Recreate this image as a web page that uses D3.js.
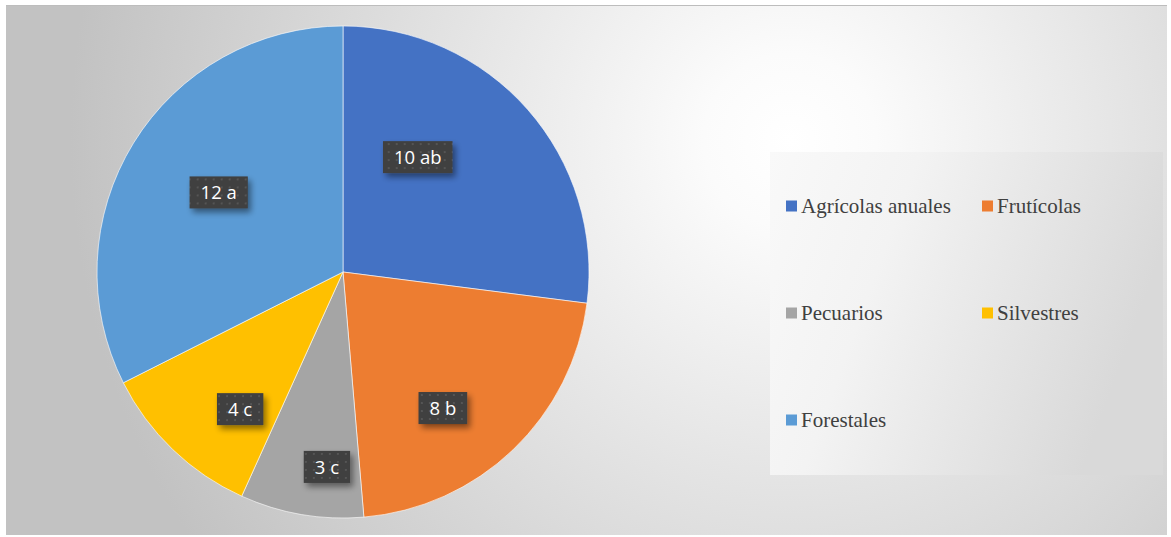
<!DOCTYPE html>
<html>
<head>
<meta charset="utf-8">
<script src="https://cdn.jsdelivr.net/npm/d3@7"></script>
<style>
  body { margin: 0; background: #fff; }
  svg { display: block; }
</style>
</head>
<body>
<svg width="1171" height="537"></svg>
<script>
const categories = ['Agrícolas anuales', 'Frutícolas', 'Pecuarios', 'Silvestres', 'Forestales'];
const values = [10, 8, 3, 4, 12];
const letters = ['ab', 'b', 'c', 'c', 'a'];
const colors = ['#4472C4', '#ED7D31', '#A5A5A5', '#FFC000', '#5B9BD5'];

// hand placed labels in the original: angle nudge (deg) and radius fraction
const labelNudge = [[-15.6, 0.557], [7.5, 0.686], [-5, 0.795], [-6.9, 0.697], [1, 0.60]];

const svg = d3.select('svg');
const defs = svg.append('defs');

// chart background
const bg = defs.append('radialGradient').attr('id', 'bg')
  .attr('gradientUnits', 'userSpaceOnUse')
  .attr('cx', 790).attr('cy', 140).attr('r', 720);
bg.append('stop').attr('offset', '0').attr('stop-color', '#ffffff');
bg.append('stop').attr('offset', '0.12').attr('stop-color', '#fbfbfb');
bg.append('stop').attr('offset', '1').attr('stop-color', '#c2c2c2');

const lg = defs.append('linearGradient').attr('id', 'lg')
  .attr('x1', 0).attr('x2', 1).attr('y1', 0).attr('y2', 0.3);
lg.append('stop').attr('offset', '0').attr('stop-color', '#f9f9f9');
lg.append('stop').attr('offset', '0.35').attr('stop-color', '#f3f3f3');
lg.append('stop').attr('offset', '1').attr('stop-color', '#d9d9d9');

// dotted dark pattern for data labels
const pat = defs.append('pattern').attr('id', 'dots')
  .attr('patternUnits', 'userSpaceOnUse').attr('width', 8).attr('height', 8);
pat.append('rect').attr('width', 8).attr('height', 8).attr('fill', '#3f3f3f');
pat.append('rect').attr('x', 2).attr('y', 2).attr('width', 2).attr('height', 2).attr('fill', '#555');

const shadow = defs.append('filter').attr('id', 'sh')
  .attr('x', '-30%').attr('y', '-30%').attr('width', '170%').attr('height', '170%');
shadow.append('feGaussianBlur').attr('in', 'SourceAlpha').attr('stdDeviation', 3);
shadow.append('feOffset').attr('dx', 3).attr('dy', 4).attr('result', 'b');
shadow.append('feComponentTransfer').append('feFuncA').attr('type', 'linear').attr('slope', 0.45);
const fm = shadow.append('feMerge');
fm.append('feMergeNode');
fm.append('feMergeNode').attr('in', 'SourceGraphic');

svg.append('rect')
  .attr('x', 6).attr('y', 5).attr('width', 1161).attr('height', 530)
  .attr('fill', 'url(#bg)');
svg.append('line')
  .attr('x1', 6).attr('x2', 1167).attr('y1', 5.5).attr('y2', 5.5)
  .attr('stroke', '#bdbdbd');

// pie
const cx = 343, cy = 272, radius = 246;
const pie = d3.pie().sort(null).value(d => d.v);
const data = pie(categories.map((c, i) => ({ c, v: values[i], l: letters[i], col: colors[i] })));
const arc = d3.arc().innerRadius(0).outerRadius(radius);

const g = svg.append('g').attr('transform', `translate(${cx},${cy})`);
g.selectAll('path').data(data).enter().append('path')
  .attr('d', arc)
  .attr('fill', d => d.data.col)
  .attr('stroke', '#fff')
  .attr('stroke-width', 0.6);

// labels
const lab = g.selectAll('g.lab').data(data).enter().append('g')
  .attr('class', 'lab')
  .attr('transform', d => {
    const n = labelNudge[d.index];
    const a = (d.startAngle + d.endAngle) / 2 + n[0] * Math.PI / 180;
    const k = radius * n[1];
    return `translate(${Math.sin(a) * k},${-Math.cos(a) * k})`;
  });
lab.each(function(d) {
  const s = d3.select(this);
  const t = s.append('text')
    .attr('text-anchor', 'middle')
    .attr('dy', '0.36em')
    .attr('font-family', 'Open Sans, Liberation Sans, sans-serif')
    .attr('font-size', 18.5)
    .attr('fill', '#fff')
    .text(d.data.v + ' ' + d.data.l);
  const b = t.node().getBBox();
  s.insert('rect', 'text')
    .attr('x', b.x - 11).attr('y', -16).attr('width', b.width + 22).attr('height', 32)
    .attr('fill', 'url(#dots)')
    .attr('filter', 'url(#sh)');
});

// legend
svg.append('rect')
  .attr('x', 770).attr('y', 152).attr('width', 393).attr('height', 323)
  .attr('fill', 'url(#lg)');

const legX = d3.scalePoint().domain([0, 1]).range([786, 982]);
const legY = d3.scalePoint().domain([0, 1, 2]).range([206, 420]);
const leg = svg.selectAll('g.leg').data(categories).enter().append('g')
  .attr('class', 'leg')
  .attr('transform', (d, i) => `translate(${legX(i % 2)},${legY(Math.floor(i / 2))})`);
leg.append('rect')
  .attr('x', 0).attr('y', -5.5).attr('width', 11).attr('height', 11)
  .attr('fill', (d, i) => colors[i]);
leg.append('text')
  .attr('x', 15).attr('dy', '0.33em')
  .attr('font-family', 'Liberation Serif, Times New Roman, serif')
  .attr('font-size', 21)
  .attr('fill', '#404040')
  .text(d => d);
</script>
</body>
</html>
